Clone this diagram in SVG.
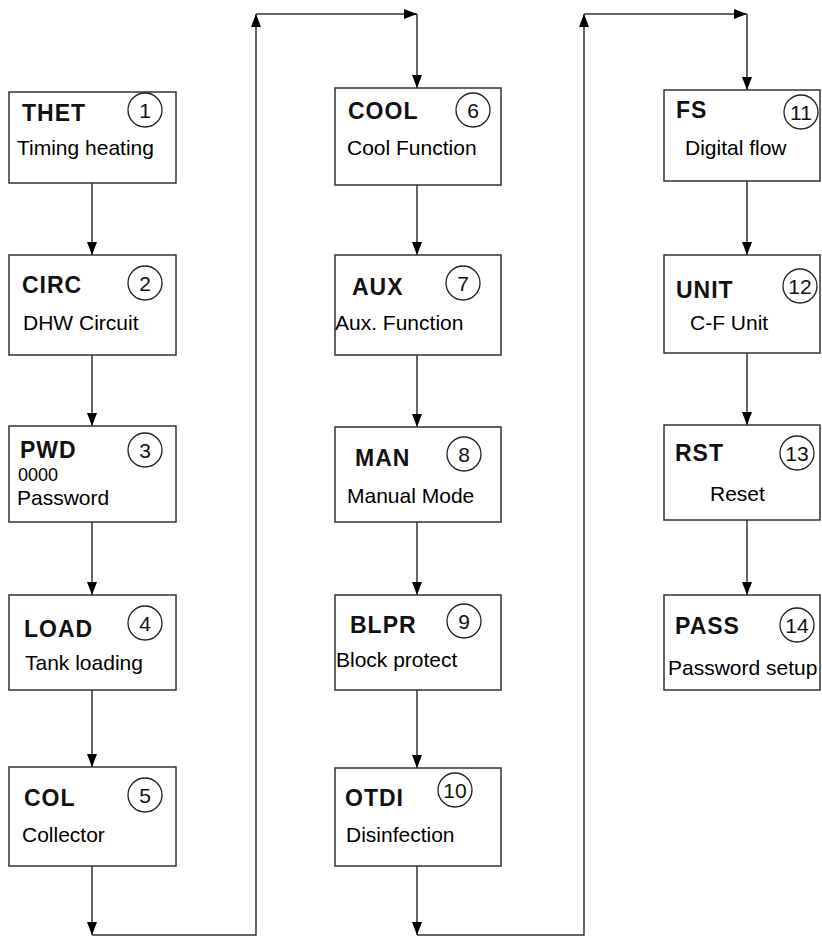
<svg xmlns="http://www.w3.org/2000/svg" width="822" height="938" viewBox="0 0 822 938">
<style>
.box{fill:#fff;stroke:#333;stroke-width:1.5}
.ttl{font-family:"Liberation Sans",Arial,sans-serif;font-weight:bold;font-size:23px;letter-spacing:1px;fill:#111}
.num{font-family:"Liberation Sans",Arial,sans-serif;font-size:21px;fill:#111;text-anchor:middle}
.cir{fill:none;stroke:#222;stroke-width:1.3}
.lbl{font-family:"Liberation Sans",Arial,sans-serif;font-size:21px;fill:#000}
.sub{font-family:"Liberation Sans",Arial,sans-serif;font-size:18px;fill:#000}
.ln{fill:none;stroke:#333;stroke-width:1.5}
</style>
<defs>
<marker id="ah" viewBox="0 0 13 10" refX="13" refY="5" markerWidth="13" markerHeight="10" markerUnits="userSpaceOnUse" orient="auto">
<path d="M0,0 L13,5 L0,10 z" fill="#000"/>
</marker>
</defs>
<g id="connectors">
<line class="ln" x1="92" y1="183" x2="92" y2="255" marker-end="url(#ah)"/>
<line class="ln" x1="92" y1="355" x2="92" y2="426" marker-end="url(#ah)"/>
<line class="ln" x1="92" y1="522" x2="92" y2="595" marker-end="url(#ah)"/>
<line class="ln" x1="92" y1="690" x2="92" y2="767" marker-end="url(#ah)"/>
<line class="ln" x1="92" y1="866" x2="92" y2="935" marker-end="url(#ah)"/>
<polyline class="ln" points="92,935 256,935 256,14" marker-end="url(#ah)"/>
<line class="ln" x1="256" y1="14" x2="417" y2="14" marker-end="url(#ah)"/>
<line class="ln" x1="417" y1="14" x2="417" y2="88" marker-end="url(#ah)"/>
<line class="ln" x1="417" y1="185" x2="417" y2="255" marker-end="url(#ah)"/>
<line class="ln" x1="417" y1="355" x2="417" y2="427" marker-end="url(#ah)"/>
<line class="ln" x1="417" y1="522" x2="417" y2="595" marker-end="url(#ah)"/>
<line class="ln" x1="417" y1="690" x2="417" y2="768" marker-end="url(#ah)"/>
<line class="ln" x1="417" y1="866" x2="417" y2="935" marker-end="url(#ah)"/>
<polyline class="ln" points="417,935 584,935 584,14" marker-end="url(#ah)"/>
<line class="ln" x1="584" y1="14" x2="747" y2="14" marker-end="url(#ah)"/>
<line class="ln" x1="747" y1="14" x2="747" y2="90" marker-end="url(#ah)"/>
<line class="ln" x1="747" y1="181" x2="747" y2="255" marker-end="url(#ah)"/>
<line class="ln" x1="747" y1="353" x2="747" y2="425" marker-end="url(#ah)"/>
<line class="ln" x1="747" y1="520" x2="747" y2="595" marker-end="url(#ah)"/>
</g>
<g id="n1"><rect class="box" x="9" y="92" width="167" height="91"/><text class="ttl" x="22" y="121">THET</text><circle class="cir" cx="145" cy="110" r="17"/><text class="num" x="145" y="118">1</text><text class="lbl" x="17" y="155">Timing heating</text></g>
<g id="n2"><rect class="box" x="9" y="255" width="167" height="100"/><text class="ttl" x="22" y="293">CIRC</text><circle class="cir" cx="145" cy="283" r="17"/><text class="num" x="145" y="291">2</text><text class="lbl" x="23" y="330">DHW Circuit</text></g>
<g id="n3"><rect class="box" x="9" y="426" width="167" height="96"/><text class="ttl" x="20" y="458">PWD</text><circle class="cir" cx="145" cy="450" r="17"/><text class="num" x="145" y="458">3</text><text class="sub" x="18" y="481">0000</text><text class="lbl" x="17" y="505">Password</text></g>
<g id="n4"><rect class="box" x="9" y="595" width="167" height="95"/><text class="ttl" x="24" y="637">LOAD</text><circle class="cir" cx="145" cy="623" r="17"/><text class="num" x="145" y="631">4</text><text class="lbl" x="25" y="670">Tank loading</text></g>
<g id="n5"><rect class="box" x="9" y="767" width="167" height="99"/><text class="ttl" x="24" y="806">COL</text><circle class="cir" cx="145" cy="795" r="17"/><text class="num" x="145" y="803">5</text><text class="lbl" x="22" y="842">Collector</text></g>
<g id="n6"><rect class="box" x="335" y="88" width="166" height="97"/><text class="ttl" x="348" y="119">COOL</text><circle class="cir" cx="473" cy="110" r="17"/><text class="num" x="473" y="118">6</text><text class="lbl" x="347" y="155">Cool Function</text></g>
<g id="n7"><rect class="box" x="335" y="255" width="166" height="100"/><text class="ttl" x="352" y="295">AUX</text><circle class="cir" cx="463" cy="283" r="17"/><text class="num" x="463" y="291">7</text><text class="lbl" x="335" y="330">Aux. Function</text></g>
<g id="n8"><rect class="box" x="335" y="427" width="166" height="95"/><text class="ttl" x="355" y="466">MAN</text><circle class="cir" cx="464" cy="454" r="17"/><text class="num" x="464" y="462">8</text><text class="lbl" x="347" y="503">Manual Mode</text></g>
<g id="n9"><rect class="box" x="335" y="595" width="166" height="95"/><text class="ttl" x="350" y="633">BLPR</text><circle class="cir" cx="464" cy="621" r="17"/><text class="num" x="464" y="629">9</text><text class="lbl" x="336" y="667">Block protect</text></g>
<g id="n10"><rect class="box" x="335" y="768" width="166" height="98"/><text class="ttl" x="345" y="806">OTDI</text><circle class="cir" cx="455" cy="790" r="17"/><text class="num" x="455" y="798">10</text><text class="lbl" x="346" y="842">Disinfection</text></g>
<g id="n11"><rect class="box" x="664" y="90" width="156" height="91"/><text class="ttl" x="676" y="118">FS</text><circle class="cir" cx="801" cy="112" r="17"/><text class="num" x="801" y="120">11</text><text class="lbl" x="685" y="155">Digital flow</text></g>
<g id="n12"><rect class="box" x="664" y="255" width="156" height="98"/><text class="ttl" x="676" y="298">UNIT</text><circle class="cir" cx="800" cy="286" r="17"/><text class="num" x="800" y="294">12</text><text class="lbl" x="690" y="330">C-F Unit</text></g>
<g id="n13"><rect class="box" x="664" y="425" width="156" height="95"/><text class="ttl" x="675" y="461">RST</text><circle class="cir" cx="797" cy="453" r="17"/><text class="num" x="797" y="461">13</text><text class="lbl" x="710" y="501">Reset</text></g>
<g id="n14"><rect class="box" x="664" y="595" width="156" height="95"/><text class="ttl" x="675" y="634">PASS</text><circle class="cir" cx="797" cy="625" r="17"/><text class="num" x="797" y="633">14</text><text class="lbl" x="668" y="675">Password setup</text></g>
</svg>
